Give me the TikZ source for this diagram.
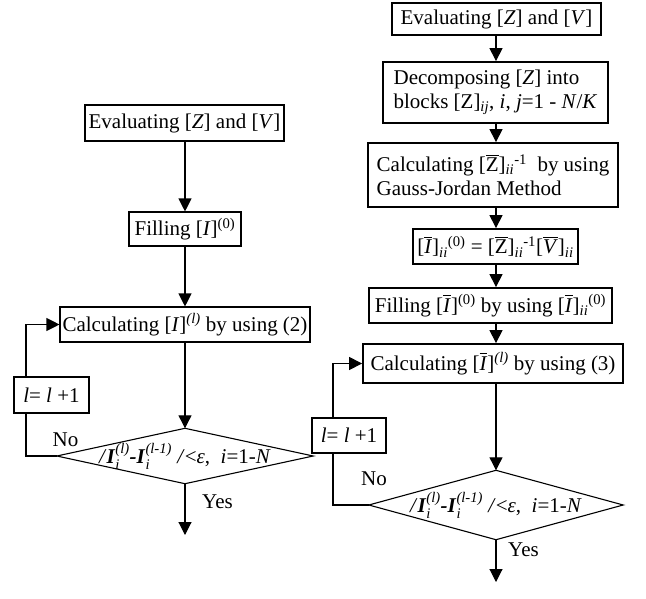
\documentclass[tikz,border=0pt]{standalone}
\usepackage{amsmath}
\usepackage{fontspec}
\setmainfont{Liberation Serif}
\usetikzlibrary{arrows.meta}
\newcommand{\ti}[1]{\textit{#1}}
\newcommand{\tu}[1]{\textup{#1}}
\newcommand{\bi}[1]{\textbf{\textit{#1}}}
\newcommand{\ob}[1]{\ensuremath{\overline{\text{#1}}}}
\begin{document}
\begin{tikzpicture}[x=1pt,y=-1pt,
  every node/.style={font=\fontsize{21}{24}\selectfont, inner sep=0pt},
  lbox/.style={draw, line width=1.1pt, fill=white, minimum width=#1},
  rbox/.style={draw, line width=1.8pt, fill=white, minimum width=#1},
  conn/.style={line width=1.1pt},
  arr/.style={conn, -{Triangle[width=13pt,length=13pt]}},
  dia/.style={line width=1.1pt}]
\useasboundingbox (0,0) rectangle (646,598);
% ---------------- left column ----------------
\node[lbox=199, minimum height=36] (L1) at (184.5,123) {Evaluating [\ti{Z}] and [\ti{V}]};
\node[lbox=112, minimum height=34] (L2) at (185,229) {Filling [\ti{I}]$^{\tu{(0)}}$};
\node[lbox=250, minimum height=35] (L3) at (185,324.5) {Calculating [\ti{I}]$^{\ti{(l)}}$ by using (2)};
\node[minimum width=256, minimum height=55] (D1) at (185,456) {\ti{/}\bi{I}$_{\ti{i}}^{\ti{(l)}}$\bi{-I}$_{\ti{i}}^{\ti{(l-1)}}$ \ti{/}<\ti{ε},\ \ \ti{i}=1-\ti{N}};
\draw[dia] (D1.north) -- (D1.east) -- (D1.south) -- (D1.west) -- cycle;
\coordinate (E1) at (185,535);
\coordinate (K1) at (26,456);
\draw[arr] (L1.south -| L2.north) -- (L2.north);
\draw[arr] (L2.south) -- (L3.north);
\draw[arr] (L3.south) -- (D1.north);
\draw[arr] (D1.south) -- (E1);
\draw[arr] (D1.west) -- (K1) |- (L3.west);
\node[lbox=75, minimum height=36] (B1) at (51.5,395) {\ti{l}= \ti{l} +1};
\node (N1) at (65.5,440) {No};
\node (Y1) at (217.5,502) {Yes};
% ---------------- right column ----------------
\coordinate (AX) at (496,0);
\node[rbox=209, minimum height=32] (R1) at (496.5,19) {Evaluating [\ti{Z}] and [\ti{V}]};
\node[rbox=225, minimum height=61, align=left] (R2) at (495.5,92.5) {Decomposing [\ti{Z}] into\\blocks [Z]$_{\ti{ij}}$, \ti{i}, \ti{j}=1 - \ti{N}/\ti{K}};
\node[rbox=250, minimum height=64, align=left] (R3) at (493,175) {Calculating [\ob{Z}]$_{\ti{ii}}{}^{\tu{-1}}$\ \ by using\\Gauss-Jordan Method};
\node[rbox=165, minimum height=35] (R4) at (495.5,246.5) {[\ob{\ti{I}}]$_{\ti{ii}}{}^{\tu{(0)}}$ = [\ob{Z}]$_{\ti{ii}}{}^{\tu{-1}}$[\ob{\ti{V}}]$_{\ti{ii}}$};
\node[rbox=243, minimum height=35] (R5) at (490.5,305.5) {Filling [\ob{\ti{I}}]$^{\tu{(0)}}$ by using [\ob{\ti{I}}]$_{\ti{ii}}{}^{\tu{(0)}}$};
\node[rbox=260, minimum height=39] (R6) at (493,363.5) {Calculating [\ob{\ti{I}}]$^{\ti{(l)}}$ by using (3)};
\node[minimum width=254, minimum height=69] (D2) at (496,505) {\ti{/}\bi{I}$_{\ti{i}}^{\ti{(l)}}$\bi{-I}$_{\ti{i}}^{\ti{(l-1)}}$ \ti{/}<\ti{ε},\ \ \ti{i}=1-\ti{N}};
\draw[dia] (D2.north) -- (D2.east) -- (D2.south) -- (D2.west) -- cycle;
\coordinate (E2) at (496,582);
\coordinate (K2) at (333,505);
\draw[arr] (R1.south -| AX) -- (R2.north -| AX);
\draw[arr] (R2.south -| AX) -- (R3.north -| AX);
\draw[arr] (R3.south -| AX) -- (R4.north -| AX);
\draw[arr] (R4.south -| AX) -- (R5.north -| AX);
\draw[arr] (R5.south -| AX) -- (R6.north -| AX);
\draw[arr] (R6.south -| AX) -- (D2.north);
\draw[arr] (D2.south) -- (E2);
\draw[arr] (D2.west) -- (K2) |- (R6.west);
\node[lbox=74, minimum height=35] (B2) at (349,435.5) {\ti{l}= \ti{l} +1};
\node (N2) at (374,479) {No};
\node (Y2) at (523.5,550) {Yes};
\end{tikzpicture}
\end{document}
